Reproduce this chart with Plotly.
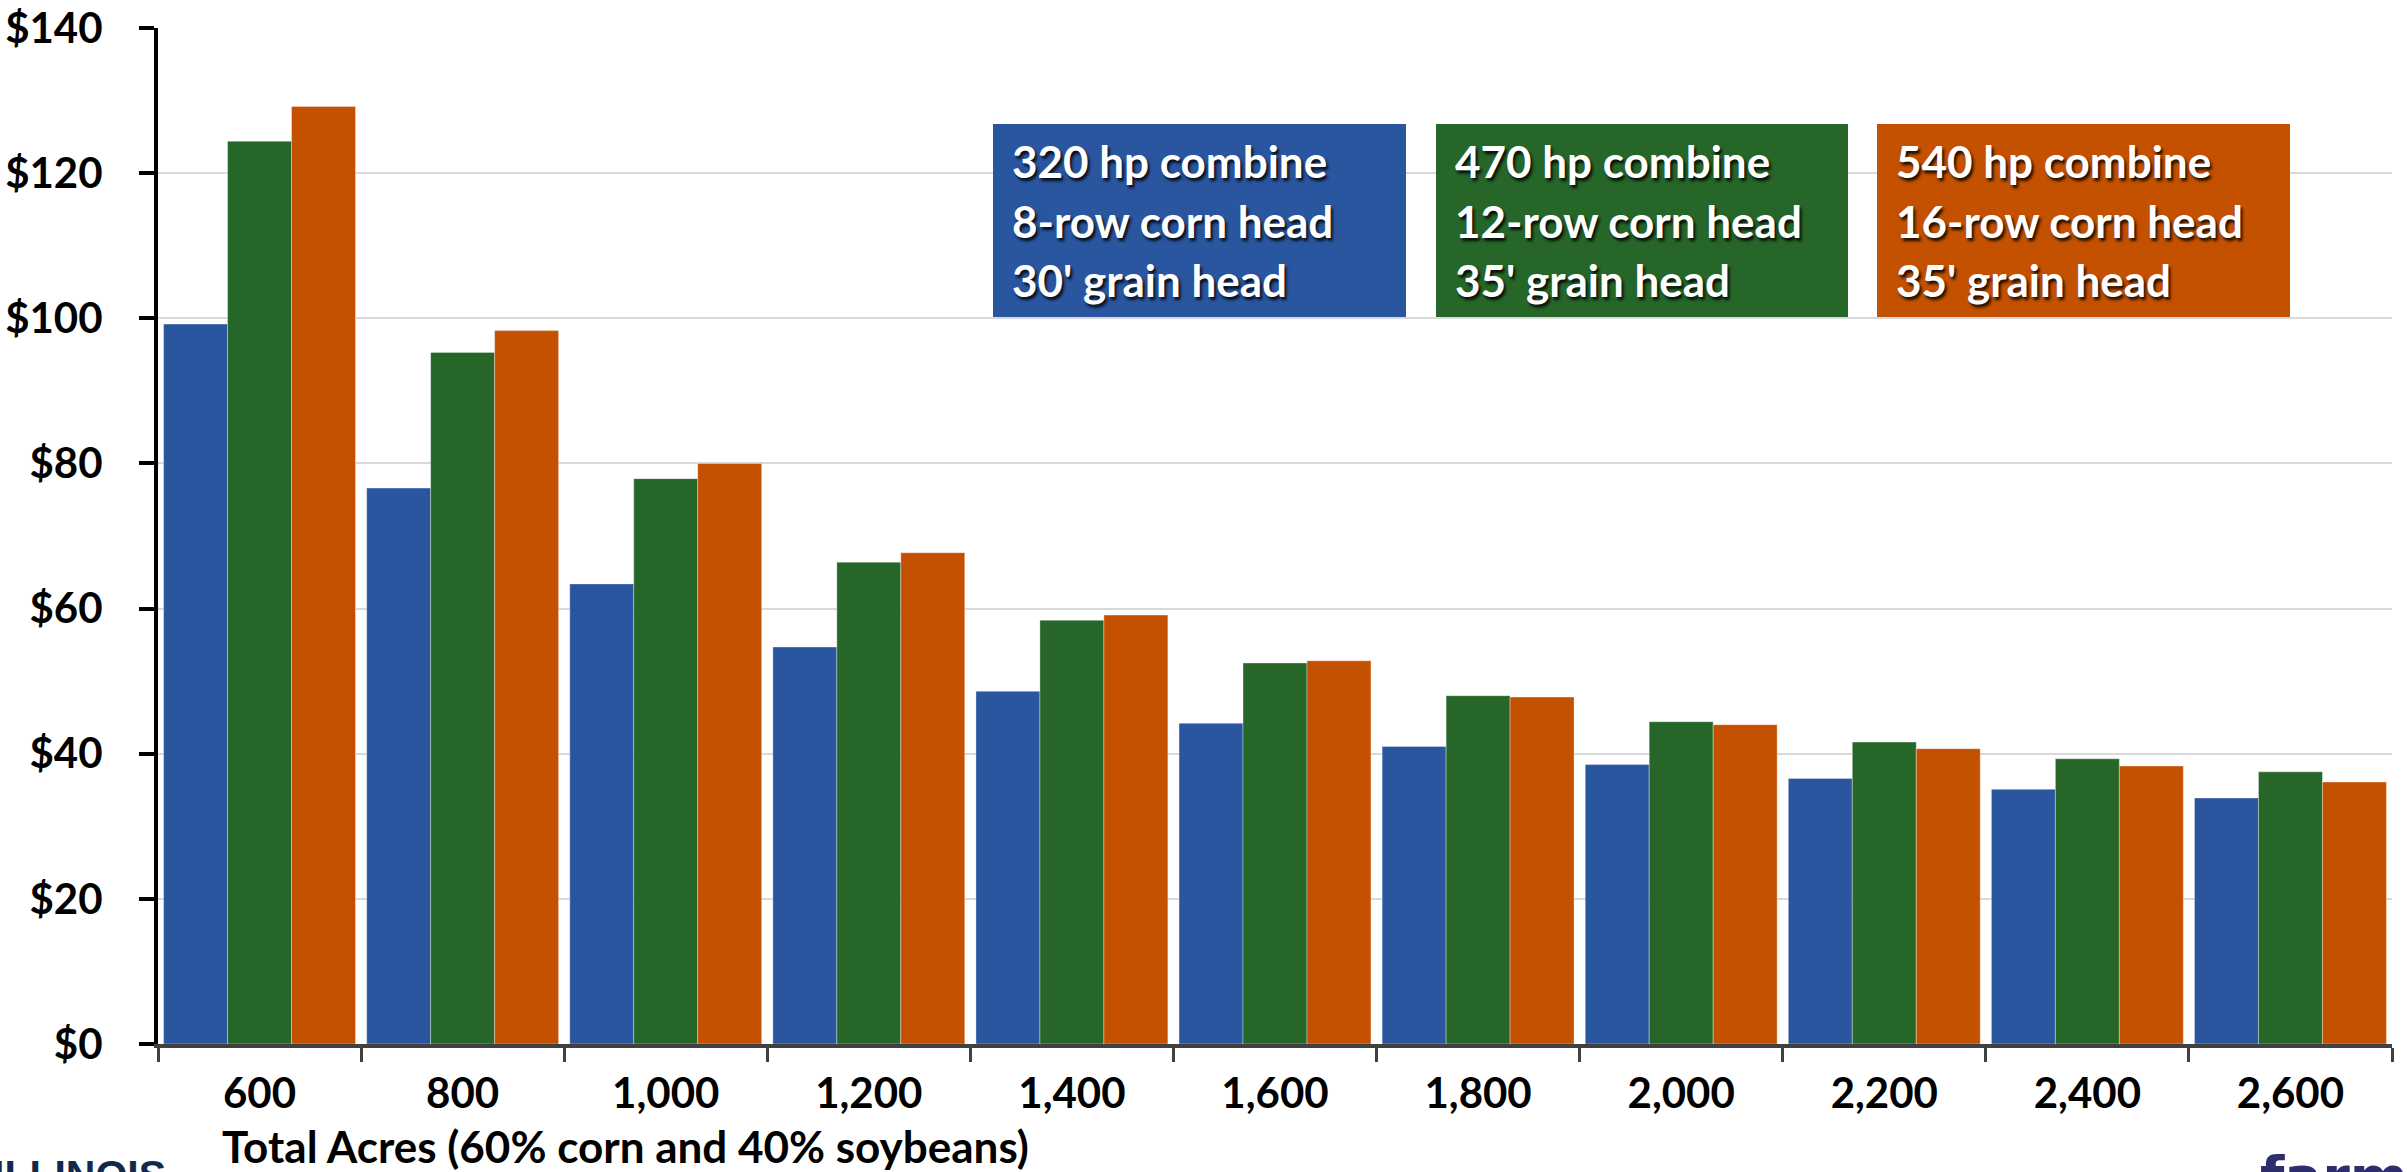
import plotly.graph_objects as go

categories = ["600", "800", "1,000", "1,200", "1,400", "1,600", "1,800", "2,000", "2,200", "2,400", "2,600"]
small_320hp = [99.2, 76.6, 63.4, 54.7, 48.6, 44.2, 41.0, 38.5, 36.6, 35.1, 33.9]
mid_470hp = [124.4, 95.3, 77.9, 66.4, 58.4, 52.5, 48.0, 44.4, 41.6, 39.3, 37.5]
large_540hp = [129.2, 98.3, 80.0, 67.7, 59.1, 52.8, 47.8, 44.0, 40.7, 38.3, 36.1]

series_names = ["320 hp combine", "470 hp combine", "540 hp combine"]
series_values = [small_320hp, mid_470hp, large_540hp]
colors = ["#2A56A0", "#266629", "#C45100"]

box_texts = [
    ["320 hp combine", "8-row corn head", "30' grain head"],
    ["470 hp combine", "12-row corn head", "35' grain head"],
    ["540 hp combine", "16-row corn head", "35' grain head"],
]

y_ticks = [0, 20, 40, 60, 80, 100, 120, 140]
y_labels = ["$" + str(v) for v in y_ticks]

W, H = 2407, 1172
L, R, T, B = 158, 15, 28, 128
PW, PH = W - L - R, H - T - B

def px(x):
    return (x - L) / PW

def py(y):
    return (H - B - y) / PH

FONT = "Lato, 'Open Sans', sans-serif"

fig = go.Figure()
for name, vals, col in zip(series_names, series_values, colors):
    fig.add_trace(go.Bar(
        x=categories, y=vals, name=name,
        marker=dict(color=col, line=dict(color="rgba(255,255,255,0.35)", width=1)),
    ))

shapes = []
annotations = []
box_x = [(993, 1406), (1436, 1848), (1877, 2290)]
box_y = (124, 317)
line_y = [161, 221, 280]
for (x0, x1), col, lines in zip(box_x, colors, box_texts):
    shapes.append(dict(type="rect", xref="paper", yref="paper",
                       x0=px(x0), x1=px(x1), y0=py(box_y[1]), y1=py(box_y[0]),
                       fillcolor=col, line=dict(width=0), layer="above"))
    for ly, txt in zip(line_y, lines):
        annotations.append(dict(
            xref="paper", yref="paper", x=px(x0 + 17), y=py(ly),
            xanchor="left", yanchor="middle", text=txt, showarrow=False,
            font=dict(family=FONT, size=44, color="white", weight="bold",
                      shadow="2px 3px 3px rgba(0,0,0,0.85)"),
        ))

annotations.append(dict(
    xref="paper", yref="paper", x=px(220), y=py(1146),
    xanchor="left", yanchor="middle",
    text="Total Acres (60% corn and 40% soybeans)", showarrow=False,
    font=dict(family=FONT, size=44, color="black", weight="bold"),
))
annotations.append(dict(
    xref="paper", yref="paper", x=px(-9), y=py(1150),
    xanchor="left", yanchor="top", text="ILLINOIS", showarrow=False,
    font=dict(family="'Liberation Sans', Arial, sans-serif", size=41, color="#13294B", weight="bold"),
))
annotations.append(dict(
    xref="paper", yref="paper", x=px(2258), y=py(1142),
    xanchor="left", yanchor="top", text="farmdoc", showarrow=False,
    font=dict(family="'DejaVu Sans', sans-serif", size=56, color="#2E2D6E", weight="bold"),
))

fig.update_layout(
    width=W, height=H,
    margin=dict(l=L, r=R, t=T, b=B, pad=0, autoexpand=False),
    paper_bgcolor="white", plot_bgcolor="white",
    barmode="group", bargap=0.055, bargroupgap=0,
    showlegend=False,
    font=dict(family=FONT, color="black"),
    shapes=shapes, annotations=annotations,
    xaxis=dict(
        type="category", automargin=False,
        showline=True, linecolor="#404040", linewidth=4,
        ticks="outside", tickson="boundaries", ticklen=14, tickwidth=3, tickcolor="#404040",
        tickfont=dict(family=FONT, size=42, color="black", weight="bold"),
        ticklabelstandoff=10, showgrid=False, zeroline=False,
    ),
    yaxis=dict(
        range=[0, 140], tickvals=y_ticks, ticktext=y_labels, automargin=False,
        showline=True, linecolor="black", linewidth=4,
        ticks="outside", ticklen=15, tickwidth=4, tickcolor="black",
        tickfont=dict(family=FONT, size=42, color="black", weight="bold"),
        ticklabelstandoff=28,
        showgrid=True, gridcolor="#D9D9D9", gridwidth=2, zeroline=False,
    ),
)

fig.write_html(
    "out.html",
    config={"displayModeBar": False},
    post_script="document.body.style.margin='0';document.body.style.overflow='hidden';",
)
